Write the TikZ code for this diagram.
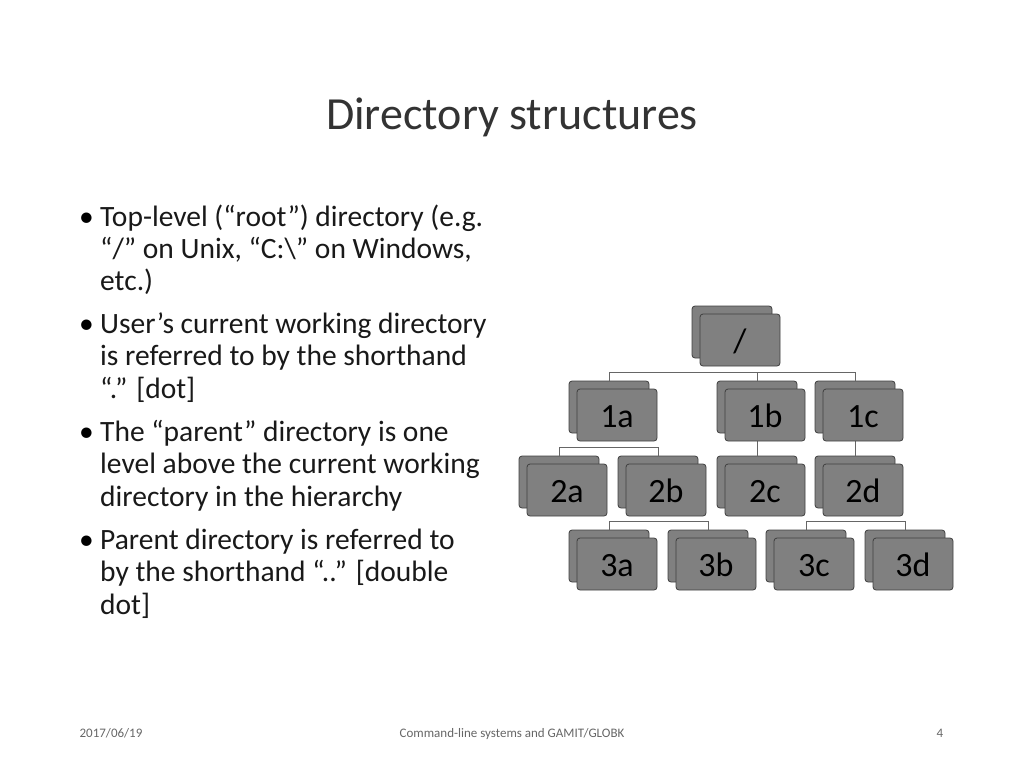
\documentclass[tikz,border=0pt]{standalone}
\usepackage{fontspec}
\setmainfont{Carlito}
\begin{document}
\begin{tikzpicture}[x=1pt,y=-1pt,
  bx/.style={draw=black!75,fill=black!50,rounded corners=3pt,minimum width=80pt,minimum height=52pt,inner sep=0pt,line width=0.8pt},
  lbl/.style={font=\fontsize{34}{36}\selectfont,text height=24pt,text depth=0pt},
  conn/.style={draw=black!60,line width=0.8pt},
  btxt/.style={anchor=base west,inner sep=0pt,font=\fontsize{29.5}{32}\selectfont,text=black!90},
  ftxt/.style={anchor=base,inner sep=0pt,font=\fontsize{13}{14}\selectfont,text=black!60}]
\useasboundingbox (0,0) rectangle (1024,768);
\node[anchor=base,inner sep=0pt,font=\fontsize{46}{48}\selectfont,text=black!80] (title) at (512,129) {Directory structures};
% bullets
\foreach \y/\t [count=\i] in {226/{Top-level (“root”) directory (e.g.},258/{“/” on Unix, “C:\textbackslash” on Windows,},290/{etc.)},
  333/{User’s current working directory},365/{is referred to by the shorthand},398/{“.” [dot]},
  441/{The “parent” directory is one},473/{level above the current working},506/{directory in the hierarchy},
  549/{Parent directory is referred to},581/{by the shorthand “..” [double},614/{dot]}}{
  \node[btxt] (l\i) at (100,\y) {\t};
}
\foreach \y [count=\i] in {226,333,441,549}{
  \node[anchor=base east,inner sep=0pt,font=\fontsize{29.5}{30}\selectfont] (d\i) at (94,\y) {•};
}
% tree back boxes
\foreach \n/\x/\y in {r/740/340,a1/617/415,b1/765/415,c1/863/415,
  a2/567/490,b2/666/490,c2/765/490,d2/863/490,
  a3/617/564,b3/716/564,c3/814/564,d3/913/564}{
  \node[bx] (\n bk) at (\x-8,\y-8) {};
}
\draw[conn] (rbk.south) -- ++(0,7);
\draw[conn] (a1bk.north) -- ++(0,-8) -| (c1bk.north);
\draw[conn] (b1bk.north) -- ++(0,-8);
\draw[conn] (a1bk.south) -- ++(0,7);
\draw[conn] (a2bk.north) -- ++(0,-8) -| (b2bk.north);
\draw[conn] (b1bk.south) -- (c2bk.north);
\draw[conn] (c1bk.south) -- (d2bk.north);
\draw[conn] (b2bk.south) -- ++(0,7);
\draw[conn] (a3bk.north) -- ++(0,-8) -| (b3bk.north);
\draw[conn] (d2bk.south) -- ++(0,7);
\draw[conn] (c3bk.north) -- ++(0,-8) -| (d3bk.north);
\foreach \n/\x/\y/\l in {r/740/340/{/},a1/617/415/1a,b1/765/415/1b,c1/863/415/1c,
  a2/567/490/2a,b2/666/490/2b,c2/765/490/2c,d2/863/490/2d,
  a3/617/564/3a,b3/716/564/3b,c3/814/564/3c,d3/913/564/3d}{
  \node[bx,lbl] (\n) at (\x,\y) {\l};
}
% footer
\node[ftxt] (f1) at (111,737) {2017/06/19};
\node[ftxt] (f2) at (512,737) {Command-line systems and GAMIT/GLOBK};
\node[ftxt] (f3) at (940,737) {4};
\end{tikzpicture}
\end{document}
